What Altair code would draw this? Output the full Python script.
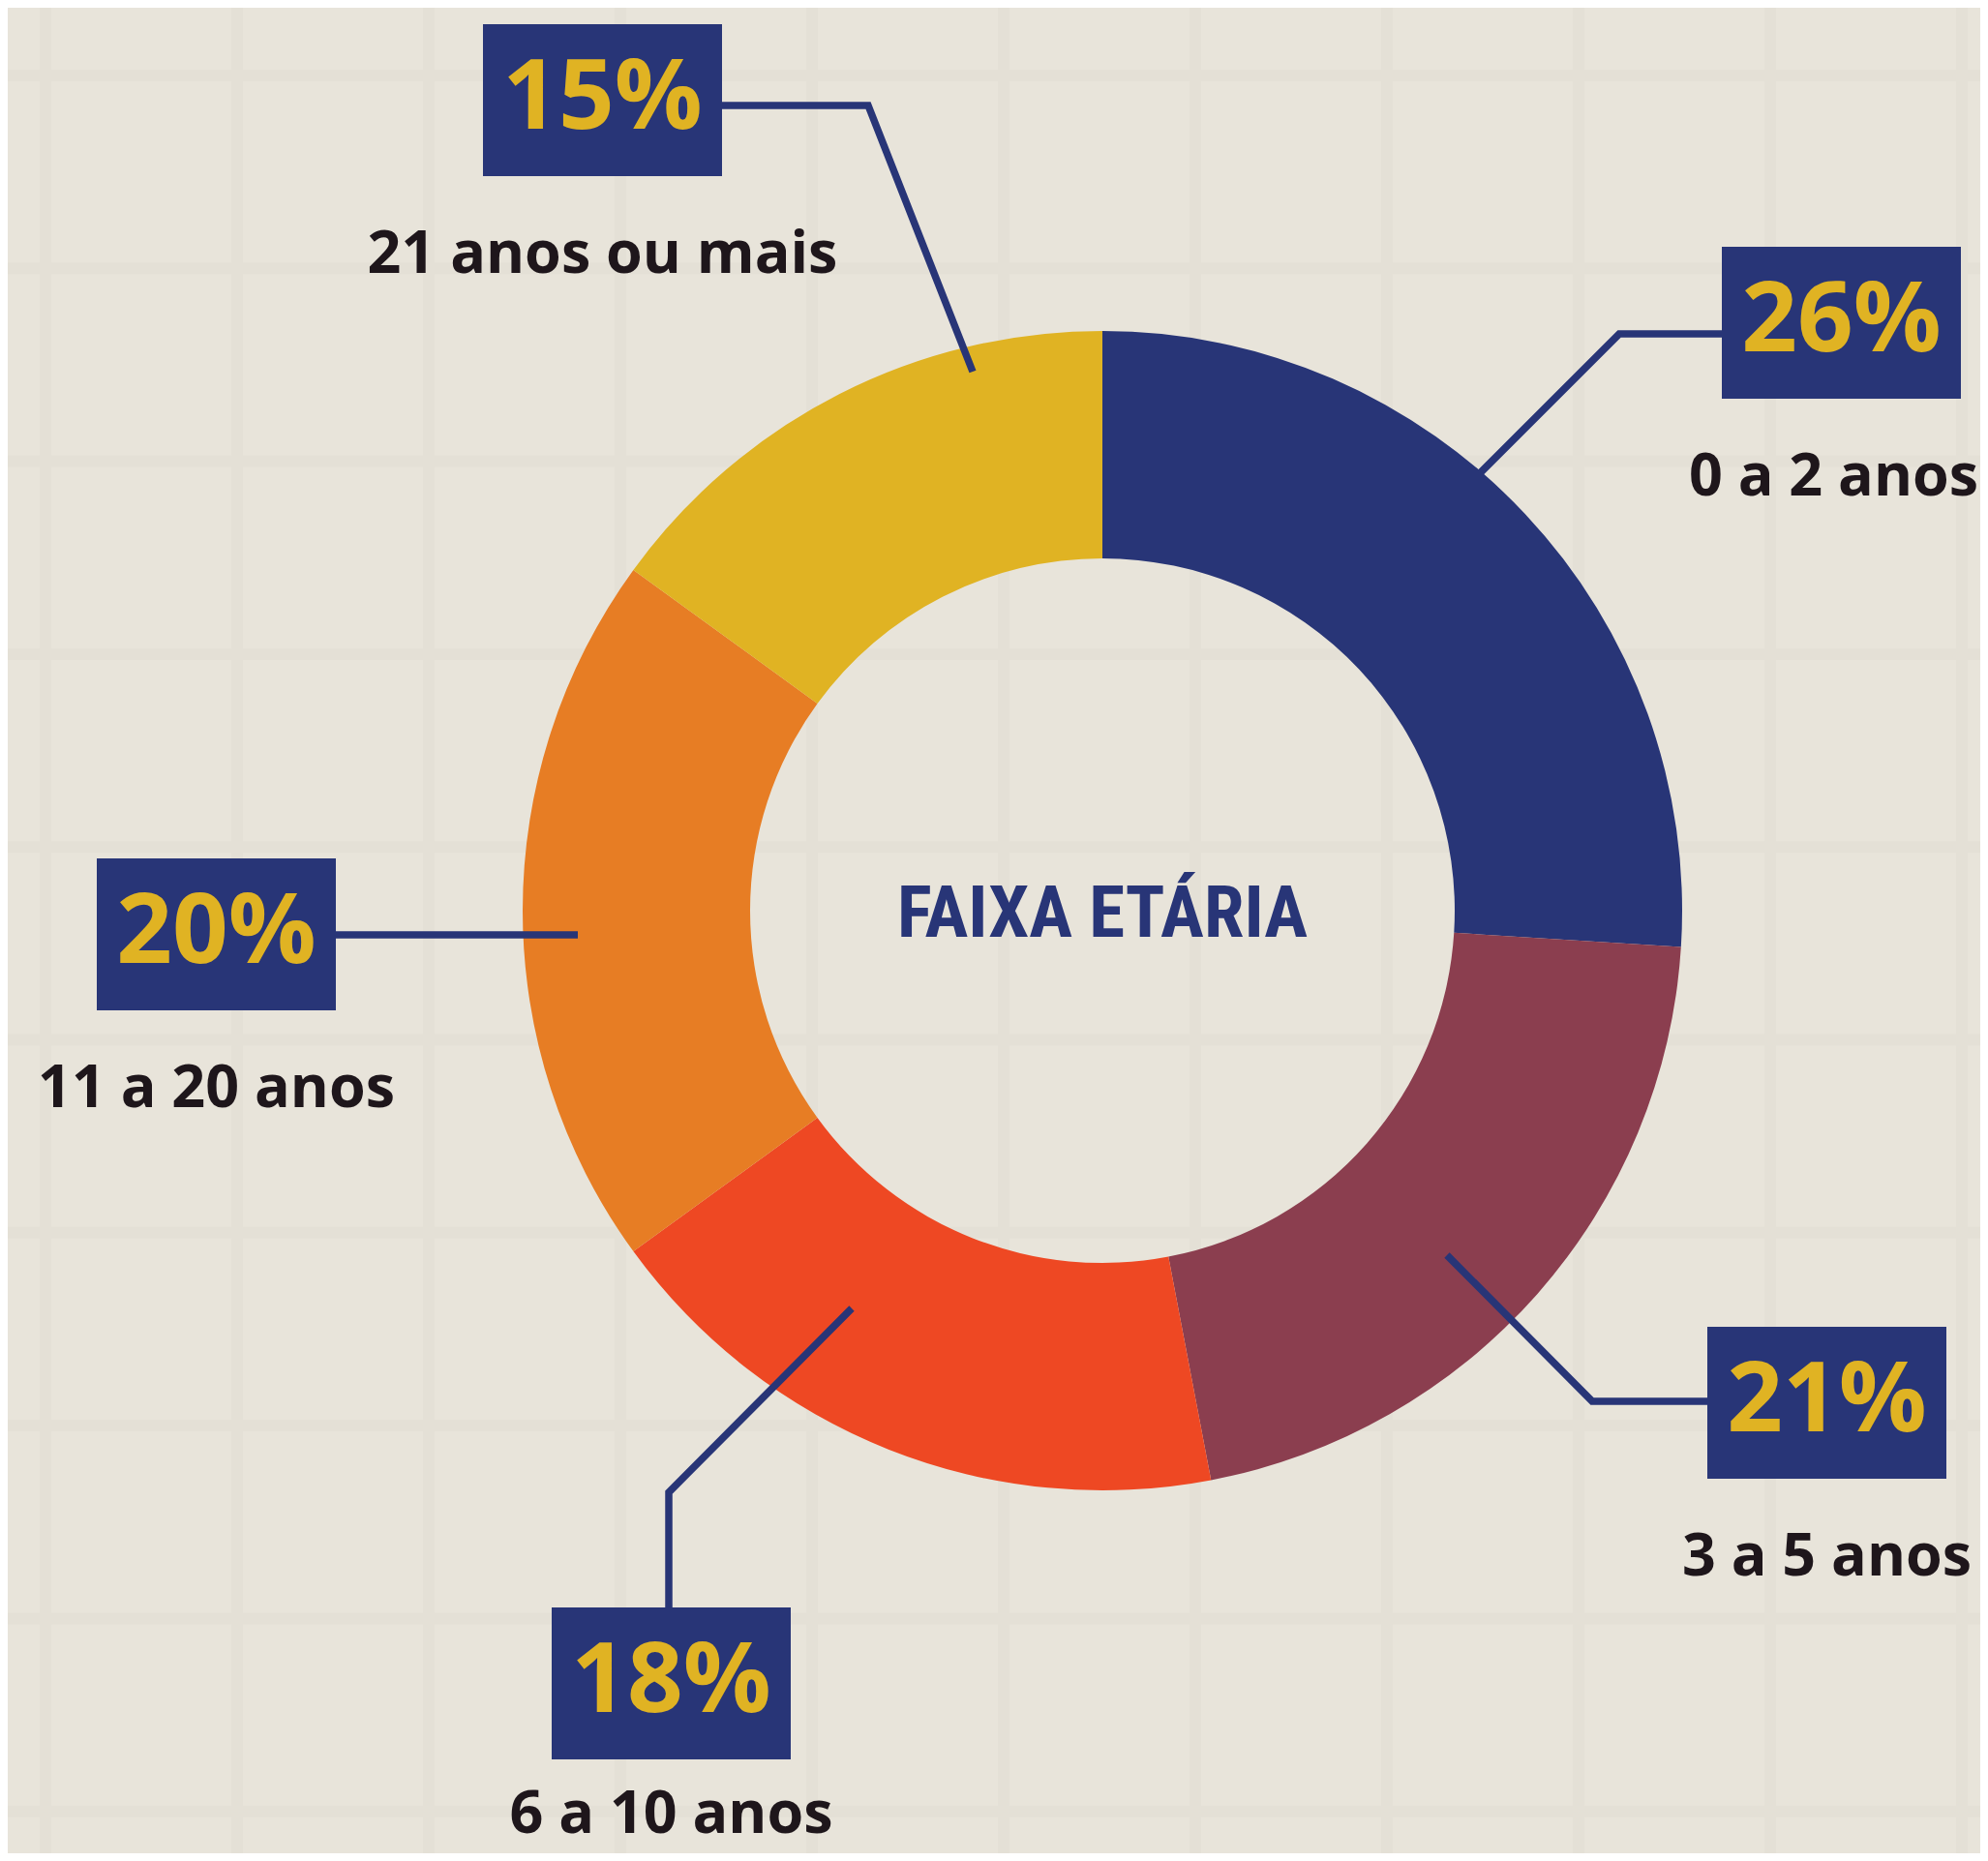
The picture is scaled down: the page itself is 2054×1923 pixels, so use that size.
import math
import altair as alt
import pandas as pd

# ---- data ----
categories = ["0 a 2 anos", "3 a 5 anos", "6 a 10 anos", "11 a 20 anos", "21 anos ou mais"]
values = [26, 21, 18, 20, 15]
slice_colors = ["#283577", "#8B3E4F", "#EE4823", "#E77D24", "#E0B323"]
center_title = "FAIXA ETÁRIA"

# ---- layout (reference pixel coordinates) ----
OFF = 8
W, H = 2054 - 2 * OFF, 1923 - 2 * OFF
CX, CY = 1139, 941
R_OUT, R_IN = 599, 364
BOX_W, BOX_H = 247, 157
# top-left corner of each value box, and leader line points (box -> donut)
box_pos = {
    "0 a 2 anos": (1779, 255),
    "3 a 5 anos": (1764, 1371),
    "6 a 10 anos": (570, 1661),
    "11 a 20 anos": (100, 887),
    "21 anos ou mais": (499, 25),
}
# small nudges so labels near the page edge stay fully visible
label_nudge = {"0 a 2 anos": (-8, 0), "6 a 10 anos": (0, -24)}
leaders = {
    "0 a 2 anos": [(1779, 345), (1673, 345), (1530, 488)],
    "3 a 5 anos": [(1764, 1448), (1645, 1448), (1495, 1297)],
    "6 a 10 anos": [(691, 1661), (691, 1542), (880, 1352)],
    "11 a 20 anos": [(347, 966), (597, 966)],
    "21 anos ou mais": [(746, 109), (897, 109), (1005, 384)],
}
grid_x = [47 + 198 * k for k in range(11)]
grid_y = [78 + 199.3 * k for k in range(10)]

NAVY = "#283577"
YELLOW = "#E0B323"
DARK = "#1E161B"
BG = "#E8E4DA"
BAND = "#E4E0D6"

xs = alt.Scale(domain=[OFF, OFF + W], range=[0, W], zero=False, nice=False)
ys = alt.Scale(domain=[OFF, OFF + H], range=[0, H], zero=False, nice=False)

# ---- tables ----
slices = pd.DataFrame({"cat": categories, "value": values, "idx": list(range(len(values)))})

box_rows = []
for c, v in zip(categories, values):
    x0, y0 = box_pos[c]
    ndx, ndy = label_nudge.get(c, (0, 0))
    box_rows.append({
        "cat": c, "pct": f"{v}%",
        "x0": x0, "x1": x0 + BOX_W, "y0": y0, "y1": y0 + BOX_H,
        "cx": x0 + BOX_W / 2, "pct_base": y0 + 108,
        "lab_x": x0 + BOX_W / 2 + ndx, "lab_base": y0 + BOX_H + 100 + ndy,
    })
boxes = pd.DataFrame(box_rows)

lead_rows = []
for c in categories:
    for i, (px, py) in enumerate(leaders[c]):
        lead_rows.append({"cat": c, "ord": i, "px": px, "py": py})
lead = pd.DataFrame(lead_rows)

gx = pd.DataFrame({"gx": grid_x})
gy = pd.DataFrame({"gy": grid_y})

# ---- layers ----
vgrid = alt.Chart(gx).mark_rule(strokeWidth=12, color=BAND).encode(
    x=alt.X("gx:Q", scale=xs, axis=None)
)
hgrid = alt.Chart(gy).mark_rule(strokeWidth=12, color=BAND).encode(
    y=alt.Y("gy:Q", scale=ys, axis=None)
)

donut = alt.Chart(slices).mark_arc(innerRadius=R_IN, outerRadius=R_OUT).encode(
    theta=alt.Theta("value:Q", stack=True, scale=alt.Scale(range=[0, 2 * math.pi])),
    color=alt.Color("cat:N", scale=alt.Scale(domain=categories, range=slice_colors), legend=None),
    order=alt.Order("idx:Q"),
    x=alt.value(CX - OFF),
    y=alt.value(CY - OFF),
)

leader_lines = alt.Chart(lead).mark_line(
    strokeWidth=7.5, color=NAVY, strokeCap="butt", strokeJoin="miter"
).encode(
    x=alt.X("px:Q", scale=xs, axis=None),
    y=alt.Y("py:Q", scale=ys, axis=None),
    detail="cat:N",
    order="ord:Q",
)

box_rects = alt.Chart(boxes).mark_rect(color=NAVY).encode(
    x=alt.X("x0:Q", scale=xs, axis=None), x2="x1:Q",
    y=alt.Y("y0:Q", scale=ys, axis=None), y2="y1:Q",
)

pct_text = alt.Chart(boxes).mark_text(
    font="Open Sans", fontWeight="bold", fontSize=101, color=YELLOW,
    align="center", baseline="alphabetic",
).encode(
    x=alt.X("cx:Q", scale=xs, axis=None),
    y=alt.Y("pct_base:Q", scale=ys, axis=None),
    text="pct:N",
)

cat_text = alt.Chart(boxes).mark_text(
    font="Open Sans", fontWeight="bold", fontSize=61, color=DARK,
    align="center", baseline="alphabetic",
).encode(
    x=alt.X("lab_x:Q", scale=xs, axis=None),
    y=alt.Y("lab_base:Q", scale=ys, axis=None),
    text="cat:N",
)

title_text = alt.Chart(pd.DataFrame({"t": [center_title]})).mark_text(
    font="Roboto Condensed, Noto Sans Condensed, Liberation Sans Narrow, DejaVu Sans Condensed, sans-serif",
    fontWeight="bold", fontSize=75, color=NAVY,
    align="center", baseline="alphabetic",
).encode(
    x=alt.value(CX - OFF),
    y=alt.value(968 - OFF),
    text="t:N",
)

chart = alt.layer(
    vgrid, hgrid, donut, leader_lines, box_rects, pct_text, cat_text, title_text
).properties(
    width=W, height=H, padding=0, autosize=alt.AutoSizeParams(type="none"),
    background=BG,
).configure_view(stroke=None)

chart.save("out.html", embed_options={"renderer": "svg", "actions": False})
